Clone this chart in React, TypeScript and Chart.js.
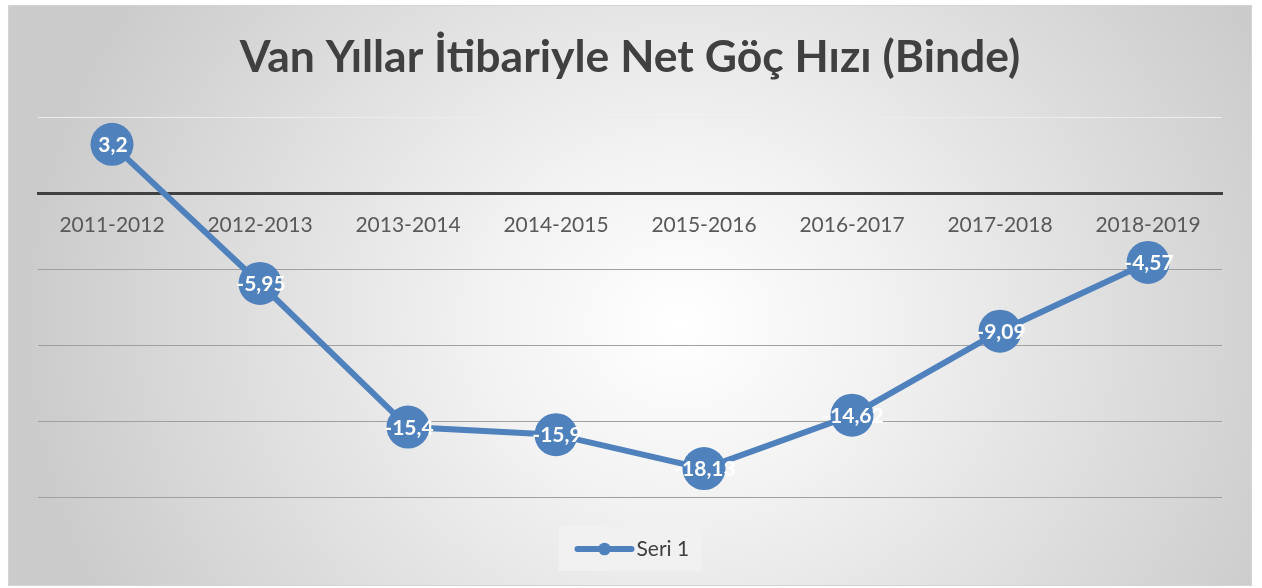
import React, { useEffect, useRef } from 'react';
import { Chart, registerables } from 'chart.js';

Chart.register(...registerables);

const titleText = 'Van Yıllar İtibariyle Net Göç Hızı (Binde)';
const categories = ['2011-2012', '2012-2013', '2013-2014', '2014-2015', '2015-2016', '2016-2017', '2017-2018', '2018-2019'];
const seriesName = 'Seri 1';
const values = [3.2, -5.95, -15.4, -15.9, -18.13, -14.62, -9.09, -4.57];
const yMin = -20;
const yMax = 5;
const yStep = 5;

const FONT = 'Lato, "Open Sans", sans-serif';
const BLUE = '#4f81bd';

const dataLabels = {
  id: 'dataLabels',
  afterDatasetsDraw(chart: any) {
    const { ctx } = chart;
    const meta = chart.getDatasetMeta(0);
    const data = chart.data.datasets[0].data;
    ctx.save();
    ctx.font = `bold 21px ${FONT}`;
    ctx.fillStyle = '#ffffff';
    ctx.textAlign = 'center';
    ctx.textBaseline = 'middle';
    meta.data.forEach((pt: any, i: number) => {
      ctx.fillText(String(data[i]).replace('.', ','), pt.x + 1, pt.y + 1);
    });
    ctx.restore();
  },
};

const legendBox = {
  id: 'legendBox',
  afterDraw(chart: any) {
    const { ctx, chartArea } = chart;
    const ds = chart.data.datasets[0];
    const cx = (chartArea.left + chartArea.right) / 2;
    const left = cx - 71.5;
    const top = chartArea.bottom + 29;
    ctx.save();
    ctx.fillStyle = 'rgba(242,242,242,0.75)';
    ctx.fillRect(left, top, 143, 45);
    const ly = top + 23;
    ctx.strokeStyle = ds.borderColor;
    ctx.lineWidth = 6;
    ctx.lineCap = 'round';
    ctx.beginPath();
    ctx.moveTo(left + 19, ly);
    ctx.lineTo(left + 73, ly);
    ctx.stroke();
    ctx.fillStyle = ds.borderColor;
    ctx.beginPath();
    ctx.arc(left + 46, ly, 6.3, 0, Math.PI * 2);
    ctx.fill();
    ctx.fillStyle = '#404040';
    ctx.font = `21px ${FONT}`;
    ctx.textAlign = 'left';
    ctx.textBaseline = 'middle';
    ctx.fillText(ds.label, left + 78, ly);
    ctx.restore();
  },
};

export default function App() {
  const ref = useRef<HTMLCanvasElement>(null);
  useEffect(() => {
    const chart = new Chart(ref.current as HTMLCanvasElement, {
      type: 'line',
      data: {
        labels: categories,
        datasets: [
          {
            label: seriesName,
            data: values,
            borderColor: BLUE,
            backgroundColor: BLUE,
            borderWidth: 6,
            pointRadius: 21.5,
            pointHoverRadius: 21.5,
            pointBackgroundColor: BLUE,
            pointBorderColor: BLUE,
            pointBorderWidth: 0,
            tension: 0,
            clip: false as any,
          },
        ],
      },
      options: {
        responsive: false,
        animation: false,
        devicePixelRatio: 1,
        layout: { padding: { left: 30, right: 30, top: 0, bottom: 89 } },
        plugins: {
          legend: { display: false },
          tooltip: { enabled: false },
          title: {
            display: true,
            text: titleText,
            color: '#404040',
            font: { family: FONT, size: 44.5, weight: 'bold' },
            padding: { top: 26, bottom: 32.6 },
          },
        },
        scales: {
          x: {
            type: 'category',
            position: { y: 0 } as any,
            offset: true,
            grid: { display: false, drawTicks: false },
            border: { display: true, color: '#404040', width: 3 },
            ticks: { color: '#595959', font: { family: FONT, size: 21 }, padding: 20, maxRotation: 0, autoSkip: false },
          },
          y: {
            min: yMin,
            max: yMax,
            ticks: { stepSize: yStep, display: false },
            border: { display: false },
            grid: {
              drawTicks: false,
              color: (c: any) => {
                const v = c.tick ? c.tick.value : null;
                if (v === yMax) return '#ececec';
                if (v === 0) return '#404040';
                return '#a0a0a0';
              },
              lineWidth: 1,
            },
          },
        },
      },
      plugins: [dataLabels, legendBox],
    });
    return () => chart.destroy();
  }, []);

  return (
    <div
      style={{
        position: 'absolute',
        left: 8,
        top: 5,
        width: 1244,
        height: 581,
        background: 'radial-gradient(ellipse 660px 600px at 54% 55%, #ffffff 0%, #f2f2f2 30%, #cbcbcb 100%)',
        boxShadow: 'inset 0 0 0 1px #d4d4d4',
      }}
    >
      <canvas ref={ref} width={1244} height={581} style={{ display: 'block' }} />
    </div>
  );
}
